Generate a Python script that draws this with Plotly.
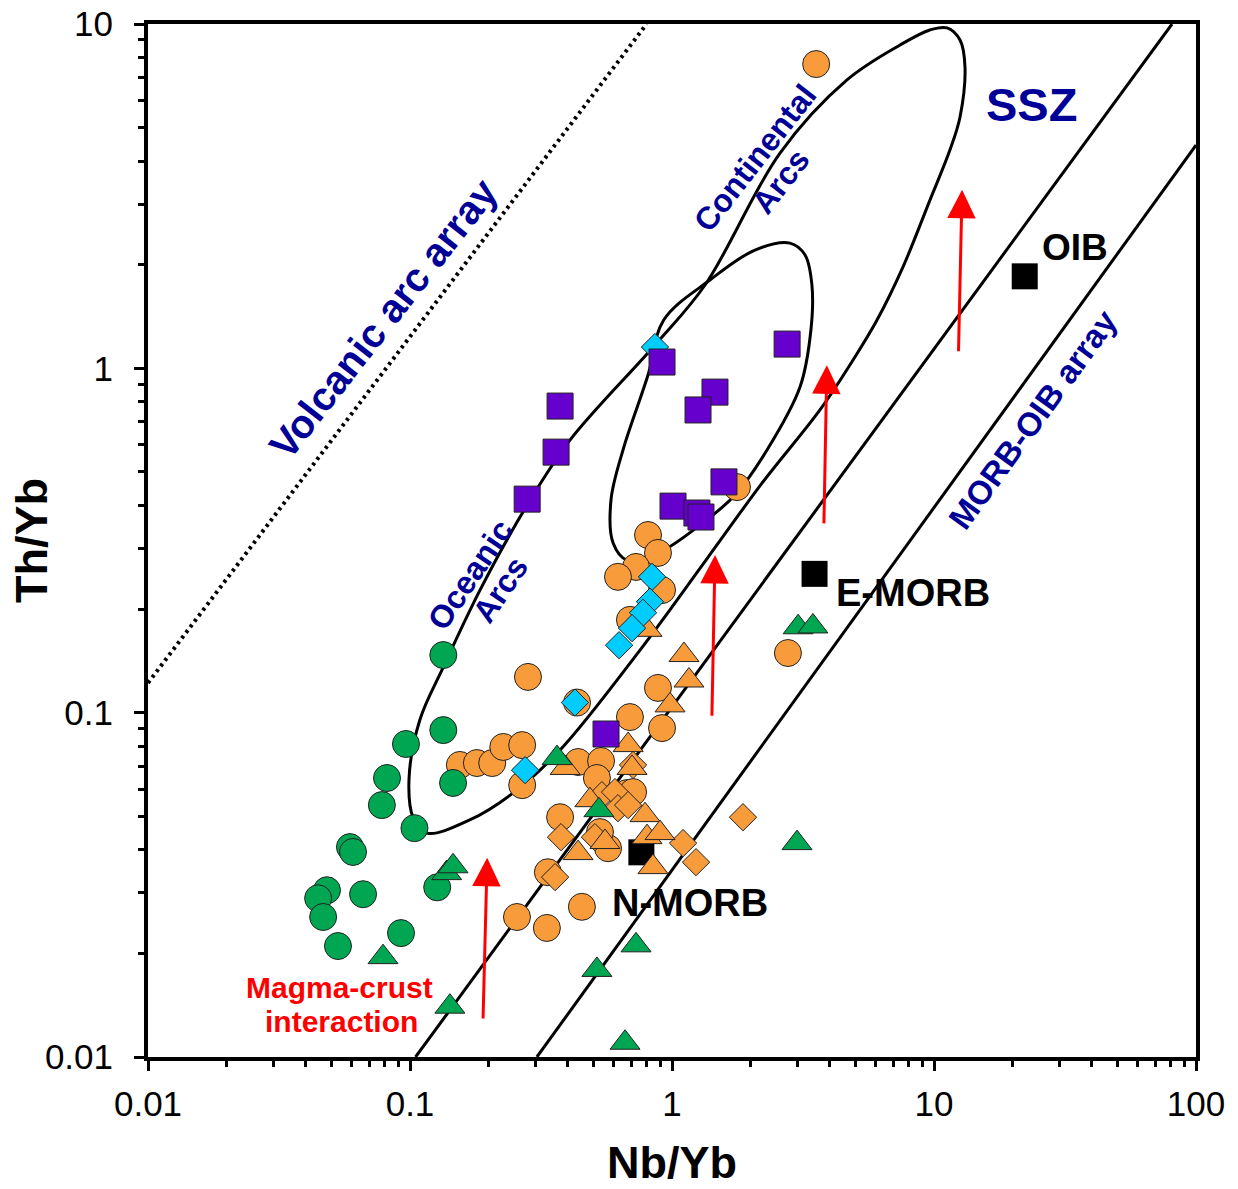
import numpy as np
import plotly.graph_objects as go

FONT = "Liberation Sans, Arial, sans-serif"
BLUE = "rgb(0,0,150)"

# ---------------- sample data (Nb/Yb, Th/Yb) ----------------
green_circle_nb = [0.134, 0.134, 0.0965, 0.0817, 0.0781, 0.104, 0.146, 0.059, 0.0606,
                   0.0482, 0.0446, 0.0466, 0.0662, 0.0531, 0.0924, 0.127]
green_circle_th = [0.147, 0.089, 0.0811, 0.0646, 0.0539, 0.0462, 0.0625, 0.0407, 0.0394,
                   0.0305, 0.0289, 0.0255, 0.0297, 0.0210, 0.0229, 0.0311]

green_tri_nb = [0.364, 0.526, 0.138, 0.146, 0.0789, 0.142, 0.517, 0.729, 0.662, 3.03, 3.45, 3.00]
green_tri_th = [0.0738, 0.0521, 0.0342, 0.0358, 0.0195, 0.0140, 0.0179, 0.0211, 0.0110,
                0.177, 0.178, 0.0418]

orange_circle_nb = [3.55, 1.77, 0.810, 0.884, 0.729, 0.622, 0.916, 0.691, 0.282, 0.434,
                    0.155, 0.180, 0.206, 0.227, 0.268, 0.268, 0.438, 0.536, 0.517, 0.374,
                    0.673, 0.710, 0.570, 0.336, 0.256, 0.333, 0.453, 2.77, 0.884, 0.916,
                    0.691, 0.531]
orange_circle_th = [7.65, 0.452, 0.328, 0.291, 0.265, 0.248, 0.227, 0.186, 0.127, 0.107,
                    0.0705, 0.0714, 0.0714, 0.0795, 0.0805, 0.0616, 0.0719, 0.0724, 0.0646,
                    0.0497, 0.0584, 0.0588, 0.0404, 0.0344, 0.0255, 0.0237, 0.0273, 0.149,
                    0.118, 0.0902, 0.0971, 0.045]

orange_tri_nb = [0.803, 1.111, 1.161, 0.983, 0.391, 0.680, 0.704, 0.486, 0.789, 0.803,
                 0.900, 0.846, 0.438, 0.555]
orange_tri_th = [0.174, 0.147, 0.124, 0.105, 0.0691, 0.0805, 0.0691, 0.0557, 0.0504,
                 0.0435, 0.0447, 0.0356, 0.0391, 0.0421]

orange_dia_nb = [1.866, 1.102, 1.235, 0.358, 0.377, 0.508, 0.540, 0.606, 0.622, 0.710, 0.680]
orange_dia_th = [0.0497, 0.0418, 0.0368, 0.0333, 0.0435, 0.0435, 0.0576, 0.0588, 0.0528,
                 0.0705, 0.0539]

cyan_dia_nb = [0.861, 0.839, 0.824, 0.775, 0.704, 0.628, 0.426, 0.275]
cyan_dia_th = [1.153, 0.248, 0.210, 0.195, 0.176, 0.157, 0.107, 0.0681]

purple_sq_nb = [2.75, 0.916, 1.459, 1.257, 0.374, 0.361, 0.280, 1.579, 1.009, 1.245, 1.290, 0.560]
purple_sq_th = [1.176, 1.043, 0.853, 0.757, 0.777, 0.571, 0.417, 0.468, 0.398, 0.380, 0.370, 0.0867]

# reference compositions
ref_names = ["N-MORB", "E-MORB", "OIB"]
ref_nb = [0.764, 3.50, 22.2]
ref_th = [0.0393, 0.253, 1.85]

# ---------------- diagram boundaries ----------------
volcanic_arc_nb = [0.01, 0.80]
volcanic_arc_th = [0.122, 10.0]

morb_upper_nb = [0.105, 81.0]
morb_upper_th = [0.01, 10.0]
morb_lower_nb = [0.305, 100.0]
morb_lower_th = [0.01, 4.45]

arc_field_nb = [0.116, 0.103, 0.0991, 0.109, 0.134, 0.185, 0.280, 0.408, 0.861, 1.337,
                2.584, 4.655, 7.42, 9.65, 11.21, 12.57, 13.13, 12.57, 11.51, 9.65, 7.61,
                6.06, 4.91, 3.67, 2.206, 1.348, 0.755, 0.374, 0.247, 0.169, 0.116]
arc_field_th = [0.0447, 0.0494, 0.0637, 0.0952, 0.1356, 0.227, 0.401, 0.619, 1.169, 1.746,
                4.22, 6.88, 8.69, 9.61, 9.74, 8.98, 7.50, 5.37, 4.31, 3.08, 1.968,
                1.381, 1.057, 0.757, 0.464, 0.2774, 0.152, 0.0779, 0.0584, 0.0488, 0.0447]

inner_field_nb = [0.673, 0.596, 0.585, 0.650, 0.810, 0.93, 1.396, 2.074, 2.82, 3.22, 3.42,
                  3.39, 3.08, 2.305, 1.740, 1.279, 0.900, 0.673]
inner_field_th = [0.2774, 0.311, 0.4146, 0.579, 0.956, 1.381, 1.805, 2.206, 2.31, 2.134,
                  1.746, 1.292, 0.882, 0.579, 0.4285, 0.3507, 0.2928, 0.2774]

# magma-crust interaction arrows (tail -> head)
arrow_tail_nb = [0.190, 1.42, 3.80, 12.4]
arrow_tail_th = [0.0128, 0.097, 0.351, 1.11]
arrow_head_nb = [0.197, 1.46, 3.90, 12.8]
arrow_head_th = [0.0379, 0.287, 1.02, 3.30]

x_ticks = [0.01, 0.1, 1, 10, 100]
x_tick_text = ["0.01", "0.1", "1", "10", "100"]
y_ticks = [0.01, 0.1, 1, 10]
y_tick_text = ["0.01", "0.1", "1", "10"]

fig = go.Figure()

# lines
fig.add_trace(go.Scatter(x=volcanic_arc_nb, y=volcanic_arc_th, mode="lines",
                         line=dict(color="black", width=4, dash="3px,4px"), hoverinfo="skip"))
for xs, ys in [(morb_upper_nb, morb_upper_th), (morb_lower_nb, morb_lower_th)]:
    fig.add_trace(go.Scatter(x=xs, y=ys, mode="lines",
                             line=dict(color="black", width=3), hoverinfo="skip"))
for xs, ys in [(arc_field_nb, arc_field_th), (inner_field_nb, inner_field_th)]:
    fig.add_trace(go.Scatter(x=xs, y=ys, mode="lines",
                             line=dict(color="black", width=3, shape="spline", smoothing=1.0),
                             hoverinfo="skip"))

ORANGE = "#F89B3A"
GREEN = "#00A651"
EDGE = dict(color="#222222", width=1)


def pts(xs, ys, symbol, size, color, line=EDGE):
    fig.add_trace(go.Scatter(x=xs, y=ys, mode="markers", cliponaxis=False,
                             marker=dict(symbol=symbol, size=size, color=color, line=line)))


pts(ref_nb, ref_th, "square", 26, "black", dict(width=0))
pts(orange_circle_nb, orange_circle_th, "circle", 27, ORANGE)
pts(orange_dia_nb, orange_dia_th, "diamond", 21, ORANGE)
pts(orange_tri_nb, orange_tri_th, "triangle-up", 26, ORANGE)
pts(green_circle_nb, green_circle_th, "circle", 27, GREEN)
pts(green_tri_nb, green_tri_th, "triangle-up", 26, GREEN)
pts(cyan_dia_nb, cyan_dia_th, "diamond", 21, "#00CCFF")
pts(purple_sq_nb, purple_sq_th, "square", 26, "#6600CC")

# arrows
for tx, ty, hx, hy in zip(arrow_tail_nb, arrow_tail_th, arrow_head_nb, arrow_head_th):
    fig.add_annotation(x=np.log10(hx), y=np.log10(hy), ax=np.log10(tx), ay=np.log10(ty),
                       xref="x", yref="y", axref="x", ayref="y", text="",
                       showarrow=True, arrowhead=2, arrowsize=1.9, arrowwidth=3,
                       arrowcolor="red", standoff=0)


def label(text, fx, fy, size, color, angle=0, bold=True):
    fig.add_annotation(x=fx, y=fy, xref="paper", yref="paper", text=f"<b>{text}</b>" if bold else text,
                       showarrow=False, textangle=angle, xanchor="center", yanchor="middle",
                       font=dict(family=FONT, size=size, color=color))


label("Volcanic arc array", 0.2238, 0.7149, 40, BLUE, -52)
label("Oceanic", 0.3073, 0.4666, 32, BLUE, -56)
label("Arcs", 0.3359, 0.4521, 32, BLUE, -56)
label("Continental", 0.5792, 0.8703, 32, BLUE, -52)
label("Arcs", 0.604, 0.848, 32, BLUE, -52)
label("MORB-OIB array", 0.8445, 0.6167, 33, BLUE, -54)
label("SSZ", 0.8435, 0.9216, 47, BLUE)
label("OIB", 0.8845, 0.7832, 37, "black")
label("E-MORB", 0.730, 0.4492, 38, "black")
label("N-MORB", 0.5172, 0.1491, 38, "black")
label("Magma-crust", 0.1823, 0.0668, 30, "red")
label("interaction", 0.1851, 0.0339, 30, "red")
label("Nb/Yb", 0.5, -0.1026, 45, "black")
label("Th/Yb", -0.1107, 0.5005, 45, "black", -90)

minor_x = [m * 10.0 ** e for e in range(-2, 2) for m in range(2, 10)]
minor_y = [m * 10.0 ** e for e in range(-2, 1) for m in range(2, 10)]

axis_common = dict(type="log", showgrid=False, zeroline=False, showline=True, linewidth=4,
                   linecolor="black", mirror=True, ticks="outside", ticklen=10, tickwidth=3,
                   tickcolor="black", automargin=False,
                   tickfont=dict(family=FONT, size=35, color="black"))

fig.update_xaxes(range=[-2, 2], tickvals=x_ticks, ticktext=x_tick_text,
                 minor=dict(tickvals=minor_x, ticks="outside", ticklen=6, tickwidth=3,
                            tickcolor="black", showgrid=False),
                 ticklabelstandoff=3, **axis_common)
fig.update_yaxes(range=[-2, 1], tickvals=y_ticks, ticktext=y_tick_text,
                 minor=dict(tickvals=minor_y, ticks="outside", ticklen=6, tickwidth=3,
                            tickcolor="black", showgrid=False),
                 ticklabelstandoff=14, **axis_common)

fig.update_layout(width=1238, height=1189, showlegend=False,
                  margin=dict(l=148, r=42, t=24, b=132),
                  plot_bgcolor="white", paper_bgcolor="white",
                  font=dict(family=FONT))

fig.write_html("out.html")
